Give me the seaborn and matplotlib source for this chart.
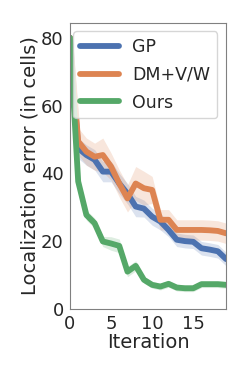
import numpy as np
import pandas as pd
import seaborn as sns
import matplotlib

matplotlib.use("Agg")
import matplotlib.pyplot as plt

iterations = list(range(20))

gp_mean = [80, 47.4, 45.4, 44.0, 40.5, 40.5, 37.0, 34.0, 30.2, 29.6,
           27.2, 25.8, 23.3, 20.4, 20.0, 19.8, 17.9, 17.5, 17.0, 14.7]
gp_err = [1.0, 3.0, 3.0, 3.0, 3.0, 3.0, 3.0, 3.0, 3.0, 2.5,
          2.5, 2.5, 2.0, 2.0, 2.0, 2.0, 2.0, 2.0, 2.0, 2.0]

dm_mean = [80, 49.4, 46.4, 44.9, 45.4, 42.0, 37.0, 32.6, 37.0, 35.6,
           35.1, 26.3, 26.3, 23.3, 23.3, 23.3, 23.3, 23.2, 23.0, 22.3]
dm_err = [1.0, 4.0, 4.0, 4.0, 5.0, 4.0, 4.0, 4.0, 5.0, 5.0,
          4.0, 3.0, 3.0, 3.0, 3.0, 3.0, 3.0, 3.0, 3.0, 3.0]

ours_mean = [80, 37.6, 27.7, 25.3, 19.9, 19.3, 18.6, 11.0, 12.7, 8.6,
             7.1, 6.6, 7.4, 6.3, 6.1, 6.1, 7.3, 7.3, 7.3, 7.1]
ours_err = [1.0, 1.5, 1.5, 1.5, 1.5, 2.0, 2.0, 1.5, 1.5, 1.0,
            1.0, 1.0, 1.0, 1.0, 1.0, 1.0, 1.0, 1.0, 1.0, 1.0]

methods = ["GP", "DM+V/W", "Ours"]

sns.set_style("white")
plt.rcParams["axes.edgecolor"] = "#808080"
palette = sns.color_palette("deep")

rows = []
for name, mean, err in zip(methods, [gp_mean, dm_mean, ours_mean],
                           [gp_err, dm_err, ours_err]):
    for t, m, e in zip(iterations, mean, err):
        rows.append(dict(method=name, iteration=t, error=m, err=e))
df = pd.DataFrame(rows)

fig = plt.figure(figsize=(2.49, 3.74), dpi=100)
ax = fig.add_axes([0.281, 0.174, 0.627, 0.765])

for i, name in enumerate(methods):
    sub = df[df["method"] == name]
    ax.fill_between(sub["iteration"], sub["error"] - sub["err"],
                    sub["error"] + sub["err"], color=palette[i], alpha=0.2,
                    linewidth=0)

sns.lineplot(data=df, x="iteration", y="error", hue="method",
             palette=palette[:3], linewidth=4.2, ax=ax)

ax.set_xlim(0, 19)
ax.set_ylim(0, 84.4)
ax.set_xticks([0, 5, 10, 15])
ax.set_yticks([0, 20, 40, 60, 80])
ax.tick_params(labelsize=13, pad=1)
ax.set_xlabel("Iteration", fontsize=14, labelpad=0)
ax.set_ylabel("Localization error (in cells)", fontsize=14, labelpad=1)
leg = ax.legend(loc="upper right", fontsize=12.5, handlelength=2.2,
                borderaxespad=0.5, labelspacing=0.55, frameon=True)
leg.set_title(None)
for line in leg.get_lines():
    line.set_linewidth(4.2)

plt.savefig("out.png", dpi=100)
